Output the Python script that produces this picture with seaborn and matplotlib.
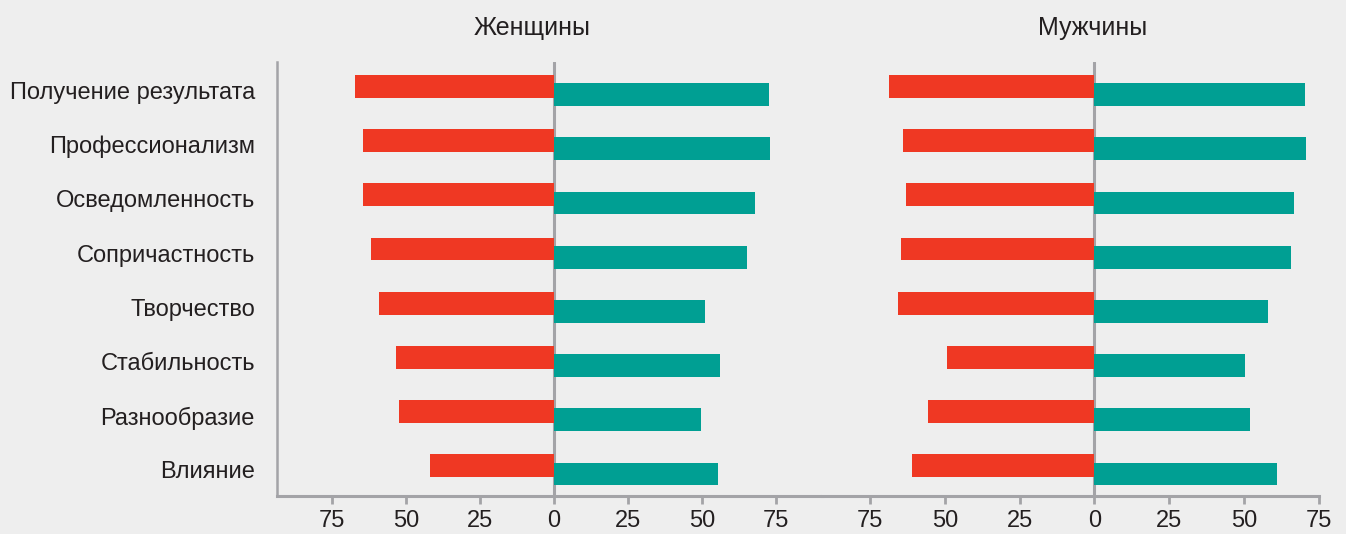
import matplotlib
matplotlib.use('Agg')
import matplotlib.pyplot as plt
import numpy as np
import seaborn as sns

# Values
categories = ['Получение результата', 'Профессионализм', 'Осведомленность', 'Сопричастность',
              'Творчество', 'Стабильность', 'Разнообразие', 'Влияние']
women_left = [67.2, 64.5, 64.5, 61.8, 59.1, 53.4, 52.4, 41.9]
women_right = [72.6, 73.0, 67.9, 65.2, 51.0, 56.1, 49.7, 55.4]
men_left = [68.6, 63.9, 62.9, 64.6, 65.6, 49.2, 55.6, 60.9]
men_right = [70.3, 70.6, 66.6, 65.6, 57.9, 50.2, 51.9, 60.9]
tick_values = [-75, -50, -25, 0, 25, 50, 75]
tick_labels = ['75', '50', '25', '0', '25', '50', '75']
panel_titles = ['Женщины', 'Мужчины']

RED = '#EF3823'
TEAL = '#009F93'
GRAY = '#A3A3A7'
TEXT = '#231F20'
BG = '#EEEEEE'

sns.set_style('white', rc={'axes.facecolor': BG, 'figure.facecolor': BG})
plt.rcParams['font.family'] = ['Liberation Sans', 'DejaVu Sans']

W, H = 1346, 534
fig = plt.figure(figsize=(W / 100, H / 100), dpi=100)
bottom = 1 - 496 / H
height = (496 - 62) / H
ax1 = fig.add_axes([277 / W, bottom, (822 - 277) / W, height])
ax2 = fig.add_axes([822 / W, bottom, (1319 - 822) / W, height])

pos = np.arange(len(categories))
shift = 0.076

panels = [(ax1, women_left, women_right, (-93.6, 90.5)),
          (ax2, men_left, men_right, (-91.0, 75.0))]

for ax, left_vals, right_vals, xlim in panels:
    ax.axvline(0, color=GRAY, lw=2.2, zorder=0.5)
    sns.barplot(x=-np.array(left_vals), y=pos - shift, orient='y', native_scale=True,
                color=RED, saturation=1, width=0.42, errorbar=None, ax=ax, zorder=2)
    sns.barplot(x=np.array(right_vals), y=pos + shift, orient='y', native_scale=True,
                color=TEAL, saturation=1, width=0.42, errorbar=None, ax=ax, zorder=2)
    for p in ax.patches:
        p.set_linewidth(0)
    ax.set_xlim(*xlim)
    ax.set_ylim(7.48, -0.524)
    ax.set_xticks(tick_values)
    ax.set_xticklabels(tick_labels)
    ax.set_xlabel('')
    ax.set_ylabel('')
    ax.tick_params(axis='x', colors=GRAY, length=6, width=2, labelcolor=TEXT,
                   labelsize=17, pad=4, bottom=True)
    for side in ['top', 'right']:
        ax.spines[side].set_visible(False)
    ax.spines['bottom'].set_color(GRAY)
    ax.spines['bottom'].set_linewidth(2.2)

ax1.set_yticks(pos)
ax1.set_yticklabels(categories)
ax1.tick_params(axis='y', length=0, labelsize=17, labelcolor=TEXT, pad=16)
ax1.spines['left'].set_color(GRAY)
ax1.spines['left'].set_linewidth(1.8)

ax2.set_yticks([])
ax2.spines['left'].set_visible(False)

fig.text(532 / W, 1 - 28 / H, panel_titles[0], ha='center', va='center', fontsize=18, color=TEXT)
fig.text(1093 / W, 1 - 28 / H, panel_titles[1], ha='center', va='center', fontsize=18, color=TEXT)

fig.savefig('out.png', dpi=100, facecolor=BG)
